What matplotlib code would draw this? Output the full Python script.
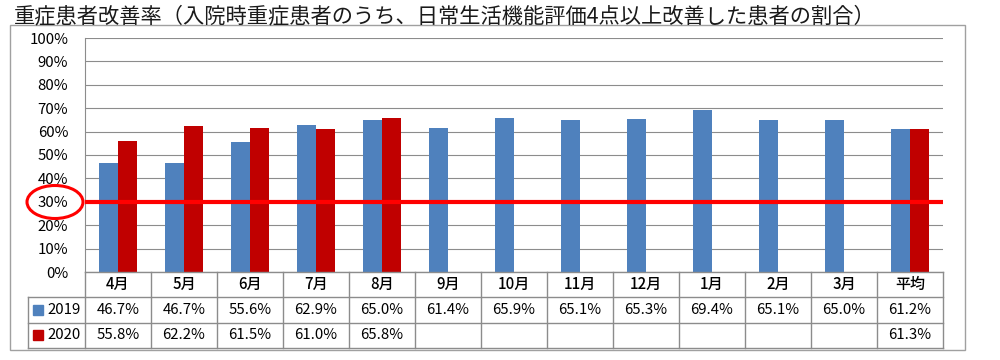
import numpy as np
import matplotlib.pyplot as plt
from matplotlib.patches import Ellipse, Rectangle

plt.rcParams['font.family'] = ['Noto Sans CJK JP', 'DejaVu Sans']

# data
months = ['4月', '5月', '6月', '7月', '8月', '9月', '10月', '11月', '12月', '1月', '2月', '3月', '平均']
y2019 = [46.7, 46.7, 55.6, 62.9, 65.0, 61.4, 65.9, 65.1, 65.3, 69.4, 65.1, 65.0, 61.2]
y2020 = [55.8, 62.2, 61.5, 61.0, 65.8, None, None, None, None, None, None, None, 61.3]
target = 30
title = '重症患者改善率（入院時重症患者のうち、日常生活機能評価4点以上改善した患者の割合）'

blue = '#4F81BD'
red = '#C00000'
grid_c = '#8c8c8c'
fs = 10.8

W, H = 1000, 360
fig = plt.figure(figsize=(10, 3.6), dpi=100)

def px(l, t, r, b):
    return [l / W, 1 - b / H, (r - l) / W, (b - t) / H]

# outer frame + title
fig.add_artist(Rectangle((10 / W, 1 - 350 / H), 955 / W, 325 / H, transform=fig.transFigure,
                         fill=False, edgecolor='#a0a0a0', linewidth=1))
fig.text(14 / W, 1 - 16 / H, title, fontsize=15.3, va='center', ha='left', color='#1a1a1a')

x = np.arange(len(months))
w = 0.29

ax = fig.add_axes(px(85, 38, 943, 272))
ax.bar(x - w / 2, y2019, width=w, color=blue, zorder=3)
v20 = [np.nan if v is None else v for v in y2020]
ax.bar(x + w / 2, v20, width=w, color=red, zorder=3)
ax.axhline(target, color='#FF0000', linewidth=3, zorder=4)
ax.set_xlim(-0.5, len(months) - 0.5)
ax.set_ylim(0, 100)
ax.set_yticks(range(0, 101, 10))
ax.set_yticklabels([f'{t}%' for t in range(0, 101, 10)], fontsize=fs)
ax.tick_params(axis='y', length=0, pad=12)
ax.set_xticks([])
ax.grid(axis='y', color=grid_c, linewidth=0.8, zorder=0)
for s in ['top', 'right', 'bottom']:
    ax.spines[s].set_visible(False)
ax.spines['left'].set_color(grid_c)

# ellipse around 30% label
fig.add_artist(Ellipse((55 / W, 1 - 202 / H), 56 / W, 33 / H, transform=fig.transFigure,
                       fill=False, edgecolor='#FF0000', linewidth=2.2))

# data table
tx = fig.add_axes(px(85, 272, 943, 348))
tx.set_xlim(-0.5, len(months) - 0.5)
tx.set_ylim(3, 0)
tx.axis('off')
lw = 1
xl = -0.5 - 57 / 66
for i in range(len(months) + 1):
    tx.plot([i - 0.5, i - 0.5], [0, 3], color=grid_c, linewidth=lw, clip_on=False)
tx.plot([xl, xl], [1, 3], color=grid_c, linewidth=lw, clip_on=False)
tx.plot([-0.5, len(months) - 0.5], [0, 0], color=grid_c, linewidth=lw, clip_on=False)
for r in [1, 2, 3]:
    tx.plot([xl, len(months) - 0.5], [r, r], color=grid_c, linewidth=lw, clip_on=False)

for i, m in enumerate(months):
    tx.text(i, 0.5, m, ha='center', va='center', fontsize=fs, fontweight='medium')
    tx.text(i, 1.5, f'{y2019[i]:.1f}%', ha='center', va='center', fontsize=fs)
    if y2020[i] is not None:
        tx.text(i, 2.5, f'{y2020[i]:.1f}%', ha='center', va='center', fontsize=fs)

for r, (lab, c) in enumerate([('2019', blue), ('2020', red)], start=1):
    tx.add_patch(Rectangle((xl + 0.08, r + 0.3), 0.15, 0.4, color=c, clip_on=False))
    tx.text(xl + 0.29, r + 0.5, lab, ha='left', va='center', fontsize=fs)

fig.savefig('out.png', dpi=100)
